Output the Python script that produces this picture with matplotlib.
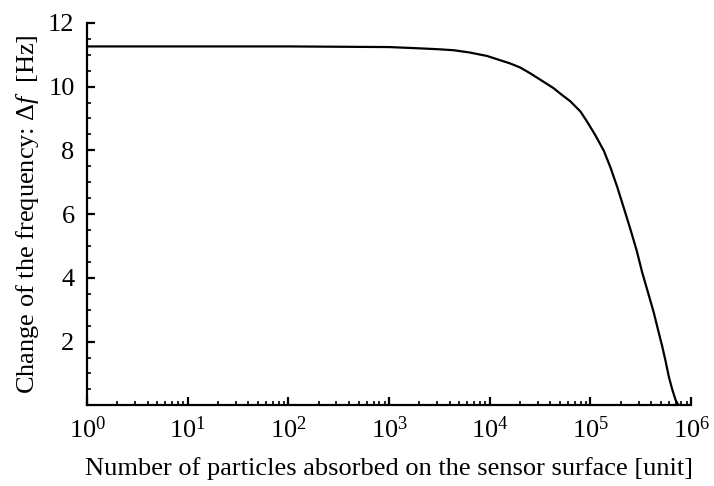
import matplotlib
matplotlib.use("Agg")
import matplotlib.pyplot as plt
from matplotlib.ticker import LogLocator, MultipleLocator, FixedLocator, LogFormatterSciNotation, NullFormatter

# values
particles = [1, 10, 100, 1000, 2000, 3160, 4400, 6300, 9400, 12600, 15800,
             20000, 25100, 31600, 43000, 50100, 63000, 79400, 93000, 112000,
             136000, 158000, 184000, 214000, 250000, 288000, 327000, 372000,
             426000, 468000, 516000, 556000, 600000, 646000, 700000, 733000,
             755000]
delta_f = [11.26, 11.26, 11.26, 11.24, 11.20, 11.17, 11.14, 11.07, 10.96, 10.83,
           10.73, 10.60, 10.42, 10.22, 9.95, 9.78, 9.54, 9.22, 8.89, 8.47,
           7.98, 7.46, 6.86, 6.20, 5.51, 4.85, 4.16, 3.55,
           2.90, 2.38, 1.85, 1.40, 0.90, 0.52, 0.17, 0.05,
           0.0]
x_ticks = [1, 10, 100, 1000, 10000, 100000, 1000000]
y_ticks = [2, 4, 6, 8, 10, 12]

plt.rcParams['font.family'] = 'Liberation Serif'
plt.rcParams['mathtext.fontset'] = 'custom'
plt.rcParams['mathtext.rm'] = 'Liberation Serif'
plt.rcParams['mathtext.it'] = 'Liberation Serif:italic'

fig = plt.figure(figsize=(7.14, 4.86), dpi=100)
ax = fig.add_axes([0.122, 0.166, 0.846, 0.787])

ax.plot(particles, delta_f, color='black', linewidth=1.6,
        solid_capstyle='round', solid_joinstyle='round')

ax.set_xscale('log')
ax.set_xlim(1, 1e6)
ax.set_ylim(0, 12)

ax.xaxis.set_major_locator(FixedLocator(x_ticks))
ax.xaxis.set_major_formatter(LogFormatterSciNotation())
ax.xaxis.set_minor_locator(LogLocator(base=10, subs=range(2, 10), numticks=20))
ax.xaxis.set_minor_formatter(NullFormatter())
ax.yaxis.set_major_locator(FixedLocator(y_ticks))
ax.yaxis.set_minor_locator(MultipleLocator(0.5))

for side in ['top', 'right']:
    ax.spines[side].set_visible(False)
for side in ['left', 'bottom']:
    ax.spines[side].set_linewidth(1.6)

ax.tick_params(which='major', direction='in', length=6, width=1.6, labelsize=19)
ax.tick_params(which='minor', direction='in', length=3, width=1.2)
ax.tick_params(axis='x', which='major', pad=8)
ax.tick_params(axis='y', which='major', pad=9)

ax.set_xlabel('Number of particles absorbed on the sensor surface [unit]', fontsize=19, labelpad=10)
ax.set_ylabel(r'Change of the frequency: $\mathit{\Delta f}$  [Hz]', fontsize=19, labelpad=5)

fig.savefig('out.png', dpi=100)
